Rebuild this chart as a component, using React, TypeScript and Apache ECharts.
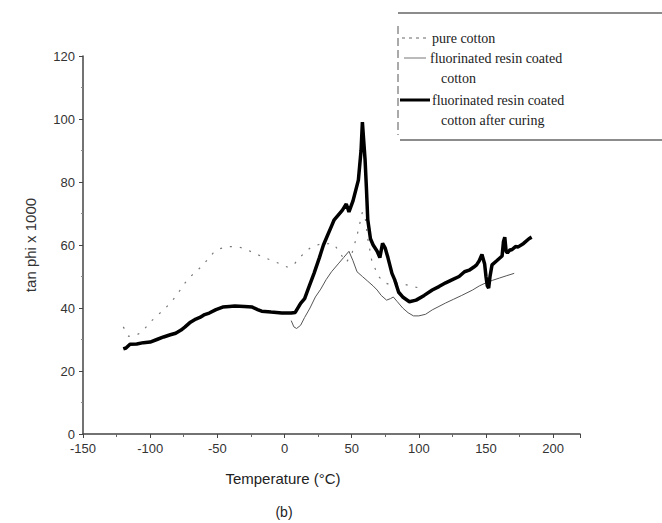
import React, { useEffect, useRef } from "react";
import * as echarts from "echarts";

const xTicks = [-150, -100, -50, 0, 50, 100, 150, 200];
const yTicks = [0, 20, 40, 60, 80, 100, 120];

const afterCuring: number[][] = [
  [-120, 27], [-118, 27.3], [-115, 28.5], [-110, 28.6], [-105, 29], [-100, 29.2], [-95, 30], [-90, 30.8],
  [-85, 31.5], [-81, 32], [-77, 33], [-74, 34], [-70, 35.5], [-66, 36.5], [-63, 37], [-60, 37.8],
  [-56, 38.4], [-51, 39.5], [-46, 40.3], [-41, 40.5], [-37, 40.6], [-30, 40.5], [-24, 40.3], [-20, 39.5],
  [-17, 39], [-10, 38.7], [-2, 38.4], [5, 38.4], [8, 38.6], [12, 41.5], [15, 43], [18, 46.5], [22, 51],
  [26, 56], [29, 60], [32, 63], [35, 66], [37, 68], [40, 69.5], [43, 71], [46, 73], [48, 70.5], [51, 74],
  [55, 80.6], [57, 90], [58, 99], [59, 93], [60, 87], [61, 78], [62, 68], [64, 62], [66, 60], [69, 58],
  [71, 56], [73, 60.5], [75, 59], [77, 56], [80, 51], [82, 49], [85, 45], [88, 43.5], [93, 42], [98, 42.5],
  [104, 44], [110, 45.7], [115, 46.8], [120, 48], [125, 49], [130, 50], [134, 51.5], [137.5, 52], [141, 53],
  [143, 53.7], [145, 55], [147, 57], [149, 54], [150, 50], [151, 47], [152, 46.3], [153, 50], [154.5, 53.7],
  [158, 55], [162, 56.5], [163, 61], [164, 62.5], [165, 58], [166, 57.5], [168, 58.5], [169, 58.4],
  [172, 59.5], [174, 59.4], [178, 60.5], [182, 62], [184, 62.5],
];

const coated: number[][] = [
  [5, 36], [7, 34], [9, 33.5], [12, 34.5], [15, 37], [19, 40], [23, 43.5], [27, 46], [31, 49], [35, 51.5],
  [40, 54], [44, 56], [48, 58], [51, 55], [54, 51.5], [58, 50], [62, 48.5], [66, 47], [69, 45.7], [72, 44],
  [76, 42.5], [79, 43], [81, 43.5], [84, 42], [88, 40], [92, 38.5], [96, 37.5], [100, 37.5], [105, 38],
  [110, 39.4], [115, 40.5], [120, 41.6], [126, 42.8], [132, 44], [140, 45.7], [145, 47], [150, 48],
  [155, 48.8], [160, 49.5], [165, 50.2], [171, 51],
];

const pureCotton: number[][] = [
  [-120, 34], [-116, 31], [-110, 31.5], [-106, 32.4], [-100, 35.5], [-95, 37.5], [-90, 39.4], [-84, 42],
  [-78, 45.5], [-74, 48], [-70, 50], [-66, 51.4], [-60, 54], [-53, 57.5], [-49, 58.7], [-42, 59.5],
  [-34, 59.4], [-28, 58.5], [-23, 57.5], [-15, 56], [-6, 54.5], [2, 53], [7, 53.7], [10, 55.5], [15, 57.5],
  [20, 59.4], [29, 60.6], [37, 60.2], [42, 57], [46, 54.5], [50, 57], [54, 63], [58, 70.5], [60, 69],
  [62, 62], [65, 55], [70, 50], [75, 48], [79, 47.3], [85, 48], [92, 47.2], [101, 46.3],
];

const legendLabels = ["pure cotton", "fluorinated resin coated", "cotton", "fluorinated resin coated", "cotton after curing"];

export default function App() {
  const ref = useRef<HTMLDivElement>(null);
  useEffect(() => {
    document.body.style.margin = "0";
    const chart = echarts.init(ref.current!, null, { renderer: "svg" });
    const serif = "Liberation Serif";
    const sans = "Liberation Sans";
    chart.setOption({
      animation: false,
      backgroundColor: "#ffffff",
      grid: { left: 83, right: 82, top: 56, bottom: 89 },
      xAxis: {
        type: "value",
        min: -150,
        max: 220,
        interval: 50,
        axisLine: { onZero: false, lineStyle: { color: "#444", width: 1.5 } },
        axisTick: { show: true, inside: false, length: 4, lineStyle: { color: "#444" } },
        minorTick: { show: true, splitNumber: 2, length: 3, lineStyle: { color: "#666" } },
        splitLine: { show: false },
        axisLabel: {
          color: "#333",
          fontSize: 13,
          fontFamily: sans,
          margin: 8,
          formatter: (v: number) => (xTicks.includes(v) ? String(v) : ""),
        },
      },
      yAxis: {
        type: "value",
        min: 0,
        max: 120,
        interval: 20,
        name: "tan phi x 1000",
        nameLocation: "middle",
        nameGap: 45,
        nameTextStyle: { color: "#333", fontSize: 15, fontFamily: sans },
        axisLine: { show: true, onZero: false, lineStyle: { color: "#444", width: 1.5 } },
        axisTick: { show: true, inside: false, length: 4, lineStyle: { color: "#444" } },
        minorTick: { show: true, splitNumber: 2, length: 2, lineStyle: { color: "#888" } },
        splitLine: { show: false },
        axisLabel: {
          color: "#333",
          fontSize: 13,
          fontFamily: sans,
          margin: 8,
          formatter: (v: number) => (yTicks.includes(v) ? String(v) : ""),
        },
      },
      series: [
        {
          name: "pure cotton",
          type: "line",
          data: pureCotton,
          showSymbol: false,
          lineStyle: { color: "#777", width: 1.2, type: [2, 8] },
          z: 2,
        },
        {
          name: "fluorinated resin coated cotton",
          type: "line",
          data: coated,
          showSymbol: false,
          lineStyle: { color: "#555", width: 1 },
          z: 3,
        },
        {
          name: "fluorinated resin coated cotton after curing",
          type: "line",
          data: afterCuring,
          showSymbol: false,
          lineStyle: { color: "#000", width: 3.5 },
          z: 4,
        },
      ],
      graphic: [
        { type: "line", shape: { x1: 398, y1: 13, x2: 662, y2: 13 }, style: { stroke: "#666", lineWidth: 1.5 } },
        { type: "line", shape: { x1: 400, y1: 140, x2: 662, y2: 140 }, style: { stroke: "#666", lineWidth: 1.5 } },
        { type: "line", shape: { x1: 398, y1: 26, x2: 398, y2: 135 }, style: { stroke: "#555", lineWidth: 1, lineDash: [8, 4] } },
        { type: "line", shape: { x1: 402, y1: 38, x2: 428, y2: 38 }, style: { stroke: "#666", lineWidth: 1, lineDash: [3, 4] } },
        { type: "line", shape: { x1: 404, y1: 58, x2: 426, y2: 58 }, style: { stroke: "#777", lineWidth: 1 } },
        { type: "line", shape: { x1: 400, y1: 100, x2: 430, y2: 100 }, style: { stroke: "#000", lineWidth: 3 } },
        { type: "text", x: 432, y: 38, style: { text: legendLabels[0], fill: "#222", font: `14px "${serif}"`, textVerticalAlign: "middle" } },
        { type: "text", x: 430, y: 58, style: { text: legendLabels[1], fill: "#222", font: `14px "${serif}"`, textVerticalAlign: "middle" } },
        { type: "text", x: 441, y: 78, style: { text: legendLabels[2], fill: "#222", font: `14px "${serif}"`, textVerticalAlign: "middle" } },
        { type: "text", x: 432, y: 100, style: { text: legendLabels[3], fill: "#222", font: `14px "${serif}"`, textVerticalAlign: "middle" } },
        { type: "text", x: 441, y: 120, style: { text: legendLabels[4], fill: "#222", font: `14px "${serif}"`, textVerticalAlign: "middle" } },
        { type: "text", x: 283, y: 478, style: { text: "Temperature (°C)", fill: "#222", font: `15px "${sans}"`, textAlign: "center", textVerticalAlign: "middle" } },
        { type: "text", x: 284, y: 512, style: { text: "(b)", fill: "#222", font: `14px "${sans}"`, textAlign: "center", textVerticalAlign: "middle" } },
      ],
    });
    return () => chart.dispose();
  }, []);
  return <div ref={ref} style={{ width: 662, height: 523 }} />;
}
